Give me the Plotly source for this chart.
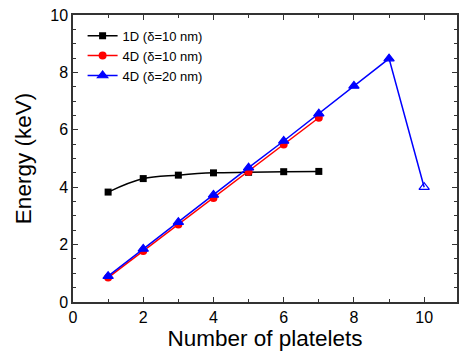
import plotly.graph_objects as go

x_1d = [1, 2, 3, 4, 5, 6, 7]
e_1d = [3.83, 4.30, 4.42, 4.50, 4.52, 4.54, 4.55]
x_4d10 = [1, 2, 3, 4, 5, 6, 7]
e_4d10 = [0.85, 1.78, 2.70, 3.62, 4.54, 5.49, 6.42]
x_4d20 = [1, 2, 3, 4, 5, 6, 7, 8, 9, 10]
e_4d20 = [0.90, 1.85, 2.78, 3.73, 4.68, 5.61, 6.56, 7.53, 8.48, 4.0]
names = ["1D (δ=10 nm)", "4D (δ=10 nm)", "4D (δ=20 nm)"]

FONT = "Liberation Sans, Arial, sans-serif"
fig = go.Figure()
fig.add_trace(go.Scatter(x=x_1d, y=e_1d, name=names[0], mode="lines+markers",
                         line=dict(color="black", width=1.5, shape="spline"),
                         marker=dict(symbol="square", size=7, color="black")))
fig.add_trace(go.Scatter(x=x_4d10, y=e_4d10, name=names[1], mode="lines+markers",
                         line=dict(color="#ff0000", width=1.5),
                         marker=dict(symbol="circle", size=8, color="#ff0000")))
sym = ["triangle-up"] * (len(x_4d20) - 1) + ["triangle-up-open"]
fig.add_trace(go.Scatter(x=x_4d20, y=e_4d20, name=names[2], mode="lines+markers",
                         line=dict(color="#0000ff", width=1.5),
                         marker=dict(symbol=sym, size=9, color="#0000ff",
                                     line=dict(color="#0000ff", width=1.2))))

axis_common = dict(showline=True, linecolor="#333", linewidth=1.5, mirror="ticks",
                   ticks="inside", ticklen=5, tickwidth=1.2, tickcolor="#333",
                   showgrid=False, zeroline=False,
                   tickfont=dict(family=FONT, size=16, color="black"))
fig.update_layout(
    width=459, height=354,
    margin=dict(l=73, r=0, t=15, b=52),
    paper_bgcolor="white", plot_bgcolor="white",
    font=dict(family=FONT, color="black"),
    xaxis=dict(range=[0, 10.935], tickvals=[0, 2, 4, 6, 8, 10],
               minor=dict(dtick=1, tick0=0, ticks="inside", ticklen=3, tickcolor="#333"),
               title=dict(text="Number of platelets", font=dict(family=FONT, size=22.5), standoff=3),
               **axis_common),
    yaxis=dict(range=[0, 10], tickvals=[0, 2, 4, 6, 8, 10],
               minor=dict(dtick=0.5, tick0=0, ticks="inside", ticklen=3, tickcolor="#333"),
               title=dict(text="Energy (keV)", font=dict(family=FONT, size=22.5), standoff=12),
               **axis_common),
    legend=dict(x=0.025, y=0.98, xanchor="left", yanchor="top", bgcolor="rgba(0,0,0,0)",
                font=dict(family=FONT, size=13), tracegroupgap=0, itemwidth=30),
    showlegend=True,
)
fig.write_html("out.html")
